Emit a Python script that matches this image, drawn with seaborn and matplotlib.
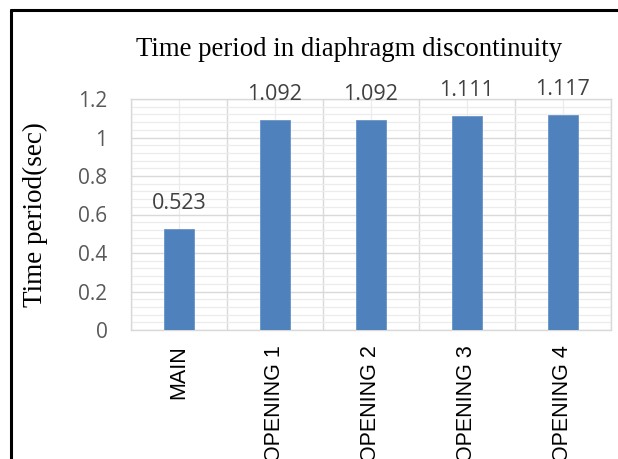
import matplotlib
matplotlib.use("Agg")
import matplotlib.pyplot as plt
from matplotlib.ticker import MultipleLocator, FixedLocator
from matplotlib.lines import Line2D
import seaborn as sns
import pandas as pd

categories = ["MAIN", "OPENING 1", "OPENING 2", "OPENING 3", "OPENING 4"]
values = [0.523, 1.092, 1.092, 1.111, 1.117]
value_labels = ["0.523", "1.092", "1.092", "1.111", "1.117"]
y_ticks = [0, 0.2, 0.4, 0.6, 0.8, 1.0, 1.2]
y_tick_labels = ["0", "0.2", "0.4", "0.6", "0.8", "1", "1.2"]

sns.set_style("white")
plt.rcParams["font.family"] = ["Open Sans", "DejaVu Sans"]

df = pd.DataFrame({"cat": categories, "val": values})

fig = plt.figure(figsize=(6.18, 4.59), dpi=100)
ax = fig.add_axes([131 / 618, 1 - 330 / 459, (610.7 - 131) / 618, (330 - 99) / 459])

sns.barplot(data=df, x="cat", y="val", color="#4F81BD", width=0.3125,
            saturation=1, ax=ax, zorder=3, edgecolor="#6A93C8", linewidth=0.6)

ax.set_xlim(-0.5, len(categories) - 0.5)
ax.set_ylim(0, 1.2)
ax.set_yticks(y_ticks)
ax.set_yticklabels(y_tick_labels, fontsize=15, color="#595959")
ax.yaxis.set_minor_locator(MultipleLocator(0.04))
ax.xaxis.set_minor_locator(FixedLocator([i - 0.5 for i in range(len(categories) + 1)]))

ax.set_xticks(range(len(categories)))
ax.set_xticklabels(categories, rotation=90, fontsize=15.5, color="black",
                   family=["Liberation Sans", "DejaVu Sans"], va="top")
ax.tick_params(axis="x", which="major", length=0, pad=11)
ax.tick_params(axis="y", which="major", length=0, pad=17)
ax.tick_params(which="minor", length=0)

ax.grid(which="major", axis="y", color="#D9D9D9", linewidth=1.0, zorder=0)
ax.grid(which="minor", axis="y", color="#ECECEC", linewidth=0.9, zorder=0)
ax.grid(which="minor", axis="x", color="#D9D9D9", linewidth=1.0, zorder=0)
ax.grid(which="major", axis="x", color="#ECECEC", linewidth=0.9, zorder=0)
ax.set_axisbelow(True)

for s in ax.spines.values():
    s.set_visible(True)
    s.set_color("#D9D9D9")
    s.set_linewidth(1.0)

ax.set_xlabel("")
ax.set_ylabel("Time period(sec)", fontsize=19.5, family=["Liberation Serif", "DejaVu Serif"],
              color="black", labelpad=22)

for i, (v, lab) in enumerate(zip(values, value_labels)):
    ax.annotate(lab, (i, v), xytext=(0, 11), textcoords="offset points",
                ha="center", va="bottom", fontsize=15.5, color="#404040",
                annotation_clip=False)

fig.text(349 / 618, 1 - 49 / 459, "Time period in diaphragm discontinuity",
         ha="center", va="center", fontsize=19.3,
         family=["Liberation Serif", "DejaVu Serif"], color="black")

# outer frame (top and left edges visible)
fig.add_artist(Line2D([10.5 / 618, 10.5 / 618], [0, 1 - 10 / 459], color="black", linewidth=2.2))
fig.add_artist(Line2D([10.5 / 618, 1], [1 - 10 / 459, 1 - 10 / 459], color="black", linewidth=2.2))

fig.savefig("out.png", dpi=100)
